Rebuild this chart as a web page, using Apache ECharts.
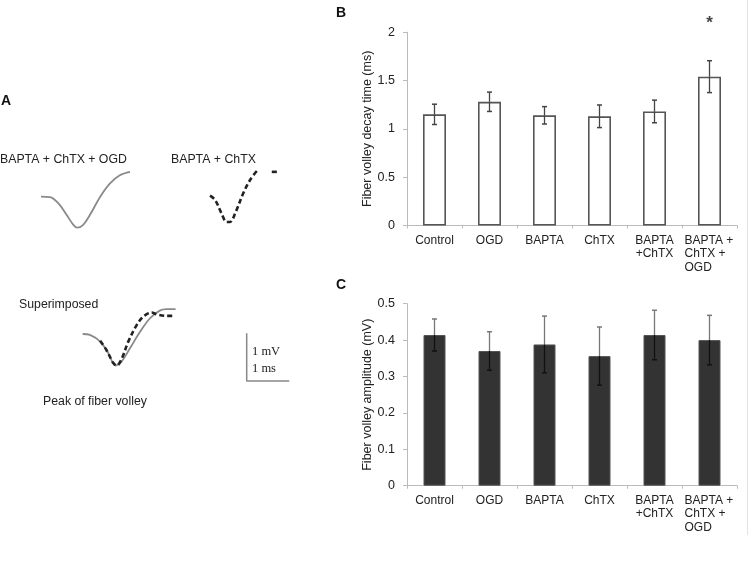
<!DOCTYPE html>
<html><head><meta charset="utf-8">
<script src="https://cdn.jsdelivr.net/npm/echarts@6/dist/echarts.min.js"></script>
<style>html,body{margin:0;padding:0;background:#fff}#c{width:748px;height:564px}</style>
</head><body><div id="c"></div>
<script>
// ---------- data ----------
const categories = ['Control', 'OGD', 'BAPTA', 'ChTX', 'BAPTA\n+ChTX', 'BAPTA +\nChTX +\nOGD'];
const decayMean = [1.15, 1.28, 1.14, 1.13, 1.18, 1.54];
const decayErr  = [0.105, 0.10, 0.09, 0.117, 0.117, 0.165];
const decaySig  = ['', '', '', '', '', '*'];
const ampMean   = [0.414, 0.370, 0.388, 0.356, 0.414, 0.400];
const ampErr    = [0.044, 0.053, 0.078, 0.080, 0.068, 0.068];
const decayAxis = { min: 0, max: 2, interval: 0.5, name: 'Fiber volley decay time (ms)' };
const ampAxis   = { min: 0, max: 0.5, interval: 0.1, name: 'Fiber volley amplitude (mV)' };

// traces: [time (ms), voltage (mV)] relative to trace start
const traceOGD = [[0,0],[0.21,-0.01],[0.41,-0.14],[0.60,-0.38],[0.76,-0.59],[0.85,-0.65],[0.99,-0.59],[1.15,-0.38],[1.39,0],[1.62,0.28],[1.85,0.45],[2.09,0.52]];
const traceCtl = [[0,0],[0.12,-0.09],[0.27,-0.37],[0.39,-0.55],[0.47,-0.55],[0.59,-0.37],[0.78,0.05],[0.94,0.33],[1.10,0.52]];
const traceCtlTail = [[1.45,0.50],[1.57,0.50]];
const superOGD = [[0,0],[0.17,-0.02],[0.41,-0.16],[0.60,-0.40],[0.77,-0.66],[0.91,-0.58],[1.11,-0.30],[1.35,0.05],[1.58,0.33],[1.81,0.49],[1.97,0.52],[2.18,0.52]];
const superCtl = [[0.41,-0.14],[0.56,-0.34],[0.72,-0.61],[0.80,-0.66],[0.92,-0.51],[1.07,-0.16],[1.27,0.19],[1.43,0.37],[1.62,0.45],[1.74,0.41],[1.97,0.38],[2.17,0.38]];
const scaleBar = [[0,1],[0,0],[1,0]]; // 1 mV, 1 ms

// ---------- layout ----------
const W = 748, H = 564;
const PX_PER_MS = 42.6, PX_PER_MV = 47.7;
const FONT = 'Liberation Sans, Arial, sans-serif';
const SERIF = 'Liberation Serif, Times New Roman, serif';
const TXT = '#222';

const grids = [], xAxes = [], yAxes = [];
function traceGrid(x0, y0) {
  const gi = grids.length;
  grids.push({ left: 0, top: 0, width: W, height: H });
  xAxes.push({ type: 'value', gridIndex: gi, show: false, min: -x0 / PX_PER_MS, max: (W - x0) / PX_PER_MS });
  yAxes.push({ type: 'value', gridIndex: gi, show: false, min: -(H - y0) / PX_PER_MV, max: y0 / PX_PER_MV });
  return gi;
}
const gT1 = traceGrid(41, 196.7);
const gT2 = traceGrid(210, 195.7);
const gS = traceGrid(82.7, 334);
const gSc = traceGrid(246.7, 381);

function barGrid(top, bottom, ax) {
  const gi = grids.length;
  grids.push({ left: 407, right: 11, top: top, bottom: bottom });
  xAxes.push({
    type: 'category', gridIndex: gi, data: categories,
    axisLine: { lineStyle: { color: '#bbb', width: 1 } },
    axisTick: { show: true, length: 3, lineStyle: { color: '#bbb' } },
    axisLabel: {
      interval: 0, fontFamily: FONT, fontSize: 12, color: TXT, lineHeight: 13.5, margin: 8,
      formatter: function (v, i) {
        return i === categories.length - 1 ? v.split('\n').map(s => '{l|' + s + '}').join('\n') : v;
      },
      rich: { l: { width: 50, align: 'left', fontFamily: FONT, fontSize: 12, color: TXT, lineHeight: 13.5 } }
    }
  });
  yAxes.push({
    type: 'value', gridIndex: gi, min: ax.min, max: ax.max, interval: ax.interval,
    name: ax.name, nameLocation: 'middle', nameGap: 33,
    nameTextStyle: { fontFamily: FONT, fontSize: 12.5, color: TXT },
    splitLine: { show: false },
    axisLine: { show: true, lineStyle: { color: '#bbb', width: 1 } },
    axisTick: { show: true, length: 4, lineStyle: { color: '#bbb' } },
    axisLabel: { fontFamily: FONT, fontSize: 12.5, color: TXT, margin: 12 }
  });
  return gi;
}
const gB = barGrid(32.2, H - 225.5, decayAxis);
const gC = barGrid(303.7, H - 485.7, ampAxis);

function traceLine(gi, data, dashed) {
  return {
    type: 'line', xAxisIndex: gi, yAxisIndex: gi, data: data, showSymbol: false, smooth: 0.35,
    silent: true,
    lineStyle: dashed ? { color: '#222', width: 2.6, type: [5, 3] } : { color: '#8a8a8a', width: 1.8 }
  };
}

function errorSeries(gi, mean, err, sig, upColor, downColor) {
  return {
    type: 'custom', xAxisIndex: gi, yAxisIndex: gi, z: 5,
    data: mean.map((m, i) => [i, m, err[i]]),
    renderItem: function (params, api) {
      const i = api.value(0), m = api.value(1), e = api.value(2);
      const top = api.coord([i, m + e]);
      const mid = api.coord([i, m]);
      const bot = api.coord([i, m - e]);
      const x = top[0], cap = 2.5;
      const children = [
        { type: 'line', shape: { x1: x, y1: top[1], x2: x, y2: mid[1] }, style: { stroke: upColor, lineWidth: 1.3 } },
        { type: 'line', shape: { x1: x, y1: mid[1], x2: x, y2: bot[1] }, style: { stroke: downColor, lineWidth: 1.3 } },
        { type: 'line', shape: { x1: x - cap, y1: top[1], x2: x + cap, y2: top[1] }, style: { stroke: upColor, lineWidth: 1.5 } },
        { type: 'line', shape: { x1: x - cap, y1: bot[1], x2: x + cap, y2: bot[1] }, style: { stroke: downColor, lineWidth: 1.5 } }
      ];
      if (sig && sig[params.dataIndex]) {
        children.push({ type: 'text', x: x, y: top[1] - 37,
          style: { text: sig[params.dataIndex], fill: '#444', font: 'bold 17px ' + FONT, align: 'center', verticalAlign: 'middle' } });
      }
      return { type: 'group', children: children };
    }
  };
}

const series = [
  traceLine(gT1, traceOGD, false),
  traceLine(gT2, traceCtl, true),
  traceLine(gT2, traceCtlTail, true),
  traceLine(gS, superOGD, false),
  traceLine(gS, superCtl, true),
  { type: 'line', xAxisIndex: gSc, yAxisIndex: gSc, data: scaleBar, showSymbol: false, silent: true,
    lineStyle: { color: '#888', width: 1.5 } },
  { type: 'bar', xAxisIndex: gB, yAxisIndex: gB, data: decayMean, barWidth: 23,
    itemStyle: { color: '#fff', borderColor: '#555', borderWidth: 1.6 } },
  errorSeries(gB, decayMean, decayErr, decaySig, '#444', '#444'),
  { type: 'bar', xAxisIndex: gC, yAxisIndex: gC, data: ampMean, barWidth: 22,
    itemStyle: { color: '#333', borderColor: '#555', borderWidth: 1 } },
  errorSeries(gC, ampMean, ampErr, null, '#777', '#111')
];

const graphic = [
  { type: 'line', shape: { x1: 747.5, y1: 0, x2: 747.5, y2: 535 }, style: { stroke: '#e4e4e4', lineWidth: 1 } },
  { type: 'text', left: 1, top: 94, style: { text: 'A', font: 'bold 14px ' + FONT, fill: '#111' } },
  { type: 'text', left: 336, top: 6, style: { text: 'B', font: 'bold 14px ' + FONT, fill: '#111' } },
  { type: 'text', left: 336, top: 278, style: { text: 'C', font: 'bold 14px ' + FONT, fill: '#111' } },
  { type: 'text', left: 0, top: 154, style: { text: 'BAPTA + ChTX + OGD', font: '12.3px ' + FONT, fill: TXT } },
  { type: 'text', left: 171, top: 154, style: { text: 'BAPTA + ChTX', font: '12.3px ' + FONT, fill: TXT } },
  { type: 'text', left: 19, top: 299, style: { text: 'Superimposed', font: '12.3px ' + FONT, fill: TXT } },
  { type: 'text', left: 43, top: 396, style: { text: 'Peak of fiber volley', font: '12.3px ' + FONT, fill: TXT } },
  { type: 'text', left: 252, top: 345, style: { text: '1 mV', font: '12.5px ' + SERIF, fill: TXT } },
  { type: 'text', left: 252, top: 362, style: { text: '1 ms', font: '12.5px ' + SERIF, fill: TXT } }
];

const chart = echarts.init(document.getElementById('c'), null, { renderer: 'canvas' });
chart.setOption({
  animation: false,
  backgroundColor: '#fff',
  grid: grids, xAxis: xAxes, yAxis: yAxes,
  series: series,
  graphic: graphic
});
</script>
</body></html>
